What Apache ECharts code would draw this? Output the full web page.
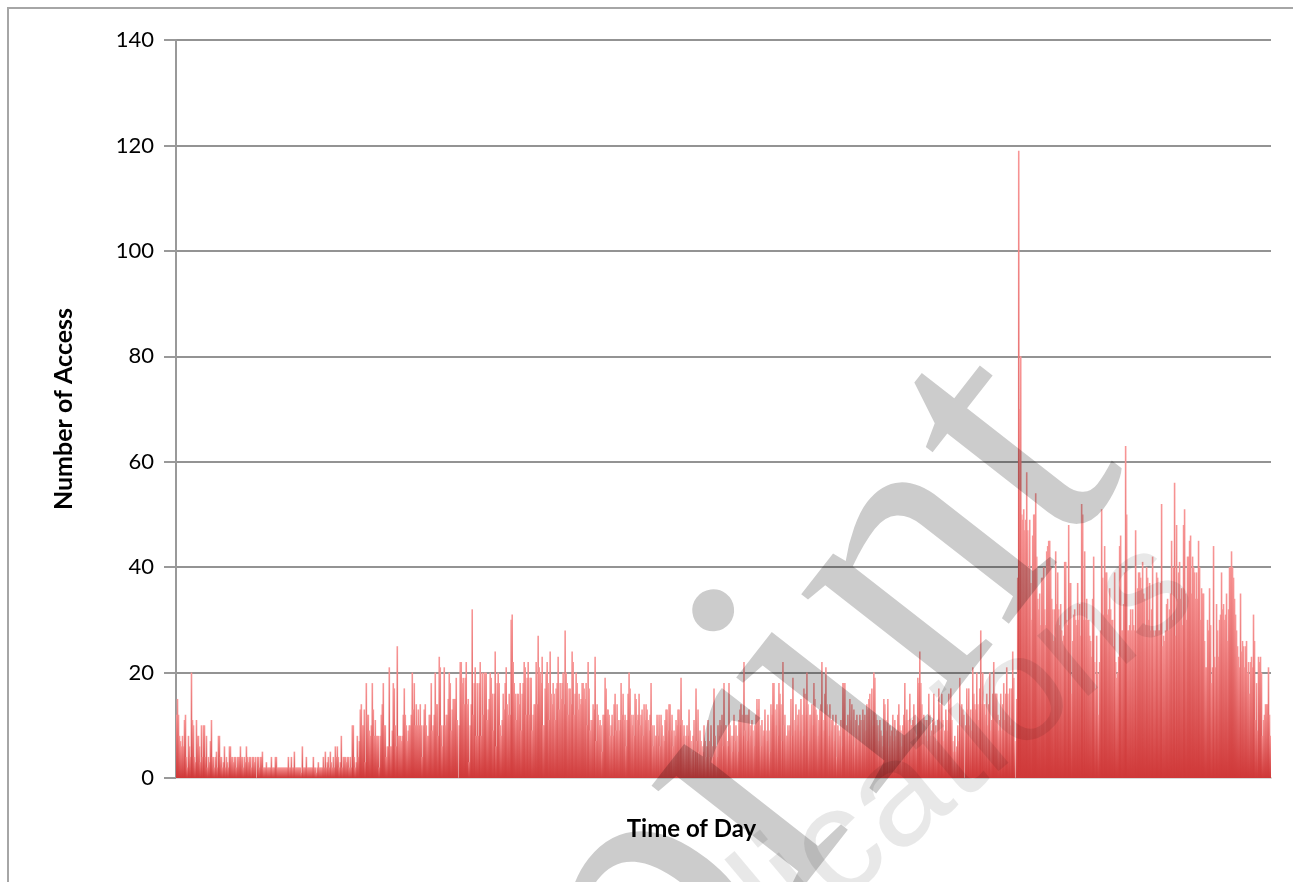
<!DOCTYPE html>
<html>
<head>
<meta charset="utf-8">
<title>Number of Access by Time of Day</title>
<script src="https://cdn.jsdelivr.net/npm/echarts@6/dist/echarts.min.js"></script>
<style>
  html, body { margin: 0; padding: 0; background: #ffffff; }
  #chart { width: 1293px; height: 882px; }
</style>
</head>
<body>
<div id="chart"></div>
<script>
// Accesses per time slot, in order through the day (one bar per slot).
const accessNight = [12,15,12,8,7,6,8,6,11,12,4,2,8,6,4,20,11,10,4,3,11,8,8,6,3,10,4,10,10,4,8,2,4,3,7,11,4,4,2,4,5,2,8,8,4,4,2,3,6,2,4,3,2,6,6,4,4,3,4,4,2,4,4,4,6,4,4,2,4,3,6,4,3,4,4,2,4,4,3,4,0,4,4,2,4,4,5,2,2,2,3,2,2,2,2,4,2,2,2,4,4,2,2,2,2,2,2,2,2,2,2,2,4,2,2,4,2,2,5,2,2,2,2,2,2,1,6,2,2,2,4,2,2,2,2,2,2,4,2,2,1,2,3,2,2,2,2,4,2,5,2,3,4,2,5,3,2,4,2,6,4,6,4,2,3,8,2,4,4,4,3,4,4,2,4,2,10,10,4,2,3,8,4];
const accessMorning = [7,13,14,10,10,13,3,18,12,12,9,8,10,18,13,8,11,8,8,8,2,8,12,14,18,10,10,4,6,6,21,6,6,9,18,17,10,6,25,8,8,8,7,8,12,17,12,10,7,9,10,10,12,20,13,18,10,14,10,13,10,14,10,4,10,13,14,10,8,8,12,12,18,9,10,12,20,14,14,8,23,21,10,6,10,21,10,12,12,15,20,18,9,13,15,15,15,19,11,0,10,22,22,18,19,14,19,22,14,15,3,10,14,32,12,18,21,8,18,8,18,22,8,20,12,20,20,20,11,13,15,20,19,16,9,16,24,6,18,20,18,10,8,11,16,13,18,21,14,12,16,12,30,31,22,18,16,11,16,16,14,18,9,16,18,22,21,12,19,22,12,19,19,9,12,14,14,22,14,27,21,20,18];
const accessMidday = [23,10,10,17,20,22,18,11,24,16,14,18,16,11,17,18,23,13,18,15,18,20,14,28,20,18,12,17,17,14,24,22,12,16,20,18,13,16,14,15,18,18,17,15,18,10,22,17,9,11,11,14,13,23,7,14,12,10,11,10,5,12,12,19,17,13,13,12,8,10,12,8,14,16,9,14,11,9,11,18,12,16,11,12,6,11,16,20,17,12,10,12,8,16,15,11,12,16,10,12,13,8,14,11,14,13,11,9,12,18,10,6,10,8,8,12,8,12,6,12,10,8,7,11,13,13,9,14,14,9,12,6,9,8,11,10,13,13,10,19,11,8,10,6,8,10,8,13,9,7,5,8,11,5,17,7,13,5,9,7,6,5,10,7,4,6,11,7,4,10,6,4,17,8,6,4,10,8,11,10,12,6,18];
const accessAfternoon = [10,10,7,6,18,10,8,5,8,12,7,10,8,5,11,13,14,12,8,22,9,12,7,12,13,8,10,11,9,6,10,12,15,13,15,10,6,11,8,9,13,9,7,12,9,5,14,12,18,18,13,10,14,8,18,16,14,7,22,10,12,8,8,10,9,10,15,8,19,11,9,14,10,12,13,9,15,12,8,17,16,12,20,14,7,12,12,14,10,18,15,13,12,8,11,13,14,22,11,9,16,21,14,12,8,14,9,11,12,7,10,12,4,10,9,8,11,6,18,18,18,9,10,12,8,15,11,14,8,13,6,11,12,8,10,12,11,7,13,11,12,9,14,13,15,16,11,17,10,20,19,12,11,10,7,11,9,8,6,15,14,11,9,15,6,10,8,9,12,7,11,8,9,12,14,10,9,6,10,12,18,11,13];
const accessEvening = [11,9,16,10,10,11,14,12,10,8,19,18,24,18,14,9,12,11,8,11,7,16,12,8,9,11,16,9,10,7,11,17,14,9,16,11,7,9,13,11,9,16,14,17,11,7,5,8,5,6,10,7,19,10,14,13,12,0,10,17,13,17,10,13,9,21,16,14,13,20,14,11,17,28,14,20,14,14,12,16,10,14,20,9,11,16,22,16,16,16,12,9,11,16,9,14,18,11,16,21,16,12,17,10,17,24,19,7,0,15,38,119,70,80,50,49,51,47,49,58,47,40,49,37,30,46,50,50,54,42,34,32,35,29,38,38,40,32,29,43,44,45,45,40,34,32,26,32,43,33,39,32,29,33,28,26,27,41,41,30,29,48,37,37,16,26,31,32,30,29,37,30,33,27,52,50,30,43,30,34,30,30,27];
const accessNight2 = [26,23,34,42,22,17,27,20,12,22,28,51,38,31,44,39,39,31,32,36,32,30,30,25,39,22,19,20,23,44,46,28,28,33,39,63,50,28,28,29,32,28,32,29,28,47,28,36,39,39,38,36,41,35,34,29,40,38,30,37,28,32,42,28,27,28,39,38,28,28,37,52,25,27,26,28,33,34,28,32,35,45,30,40,56,27,48,34,39,41,34,36,29,48,51,35,30,42,42,45,46,35,42,40,39,34,39,34,45,40,30,36,35,35,26,21,21,30,28,36,29,18,21,44,23,21,33,28,23,30,31,39,32,33,30,31,35,26,32,40,40,43,40,38,34,31,28,25,23,21,35,24,26,25,21,25,26,20,22,16,22,23,21,31,26,11,18,9,23,22,23,20,8,11,12,14,14,14,21,12,8];

const accessCounts = [].concat(accessNight, accessMorning, accessMidday, accessAfternoon, accessEvening, accessNight2);
const timeSlots = accessCounts.map((_, i) => 'slot ' + (i + 1));
const yTicks = [0, 20, 40, 60, 80, 100, 120, 140];

const chart = echarts.init(document.getElementById('chart'), null, { renderer: 'canvas' });

// Each bar fades from pink at its top to red at its base.
const barFill = new echarts.graphic.LinearGradient(0, 0, 0, 1, [
  { offset: 0, color: '#f89696' },
  { offset: 1, color: '#cf3838' }
]);

chart.setOption({
  animation: false,
  backgroundColor: '#ffffff',
  grid: { left: 176, right: 22, top: 40, bottom: 104, containLabel: false },
  xAxis: {
    type: 'category',
    data: timeSlots,
    name: 'Time of Day',
    nameLocation: 'middle',
    nameGap: 39,
    nameTextStyle: {
      fontFamily: 'Lato', fontWeight: 'bold', fontSize: 24, color: '#000',
      padding: [0, 64, 0, 0]
    },
    axisLine: { show: true, lineStyle: { color: '#d9d9d9', width: 2 } },
    axisTick: { show: false },
    axisLabel: { show: false },
    splitLine: { show: false }
  },
  yAxis: {
    type: 'value',
    min: yTicks[0],
    max: yTicks[yTicks.length - 1],
    interval: yTicks[1] - yTicks[0],
    name: 'Number of Access',
    nameLocation: 'middle',
    nameRotate: 90,
    nameGap: 100,
    nameTextStyle: { fontFamily: 'Lato', fontWeight: 'bold', fontSize: 25, color: '#000' },
    axisLine: { show: true, lineStyle: { color: '#999999', width: 2 } },
    axisTick: { show: true, length: 12, lineStyle: { color: '#999999', width: 2 } },
    axisLabel: { margin: 22, fontFamily: 'Lato', fontSize: 22, color: '#000' },
    splitLine: { show: true, lineStyle: { color: '#939393', width: 2 } }
  },
  series: [{
    type: 'bar',
    data: accessCounts,
    barWidth: 1.6,
    barGap: '0%',
    itemStyle: { color: barFill },
    silent: true
  }],
  graphic: [
    {
      type: 'rect',
      shape: { x: 8, y: 8, width: 1400, height: 1000 },
      style: { fill: 'none', stroke: '#a6a6a6', lineWidth: 2 },
      silent: true
    },
    {
      type: 'text',
      x: 105, y: 1290,
      rotation: 52 * Math.PI / 180,
      style: {
        text: 'Preprint',
        font: '396px "Liberation Serif"',
        fill: 'rgba(0,0,0,0.2)'
      },
      z: 100,
      silent: true
    },
    {
      type: 'text',
      x: 520, y: 1021,
      rotation: 40 * Math.PI / 180,
      style: {
        text: 'publications',
        font: '150px "Liberation Sans"',
        fill: 'rgba(0,0,0,0.09)'
      },
      z: 100,
      silent: true
    }
  ]
});
</script>
</body>
</html>
